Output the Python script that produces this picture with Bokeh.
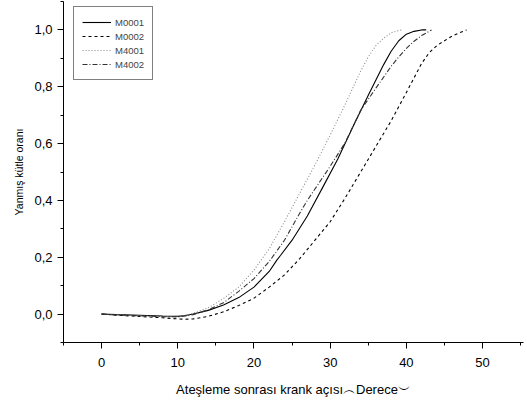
from bokeh.plotting import figure
from bokeh.models import FixedTicker, CustomJSTickFormatter, Legend, LegendItem, Range1d
from bokeh.embed import file_html
from bokeh.resources import INLINE

# ---- data ----
angle_m0001 = [0, 2, 4, 6, 8, 10, 11, 12, 14, 16, 18, 20, 22, 23, 23.5, 25, 27, 29, 31, 33, 35, 37, 38, 39, 40, 41, 42, 42.6]
m0001 = [0, -0.002, -0.003, -0.005, -0.007, -0.008, -0.005, 0.0, 0.013, 0.032, 0.058, 0.095, 0.15, 0.19, 0.207, 0.26,
         0.345, 0.445, 0.546, 0.66, 0.77, 0.877, 0.925, 0.962, 0.985, 0.995, 1.0, 1.0]

angle_m0002 = [0, 2, 4, 6, 8, 10, 11, 12, 14, 16, 18, 20, 22, 24, 26, 28, 30, 32, 34, 36, 38, 40, 42, 43, 44, 45, 46, 47, 47.9]
m0002 = [0, -0.004, -0.007, -0.01, -0.013, -0.017, -0.018, -0.017, -0.008, 0.008, 0.03, 0.056, 0.095, 0.138, 0.195,
         0.26, 0.325, 0.41, 0.5, 0.59, 0.68, 0.78, 0.882, 0.92, 0.945, 0.962, 0.978, 0.99, 1.0]

angle_m4001 = [0, 2, 4, 6, 8, 10, 11, 12, 14, 16, 18, 20, 22, 24, 26, 28, 30, 32, 34, 35, 36, 37, 38, 39, 39.5]
m4001 = [0, -0.003, -0.005, -0.007, -0.009, -0.008, -0.004, 0.002, 0.022, 0.055, 0.095, 0.155, 0.23, 0.325, 0.425,
         0.525, 0.63, 0.74, 0.855, 0.905, 0.945, 0.97, 0.99, 0.998, 1.0]

angle_m4002 = [0, 2, 4, 6, 8, 10, 11, 12, 14, 16, 18, 20, 22, 24, 26, 27, 28, 30, 32, 34, 36, 38, 39, 40, 41, 42, 43.3]
m4002 = [0, -0.003, -0.005, -0.007, -0.009, -0.01, -0.007, -0.002, 0.015, 0.04, 0.08, 0.125, 0.185, 0.26, 0.355,
         0.40, 0.44, 0.52, 0.605, 0.717, 0.795, 0.872, 0.905, 0.935, 0.96, 0.98, 1.0]

series_names = ["M0001", "M0002", "M4001", "M4002"]
x_major = [0, 10, 20, 30, 40, 50]
x_minor = [-5, 5, 15, 25, 35, 45, 55]
y_major = [0.0, 0.2, 0.4, 0.6, 0.8, 1.0]
y_minor = [-0.1, 0.1, 0.3, 0.5, 0.7, 0.9, 1.1]
x_title = "Ateşleme sonrası krank açısı︵Derece︶"
y_title = "Yanmış kütle oranı"

FONT = "Liberation Sans"

p = figure(width=526, height=399, output_backend="svg", toolbar_location=None,
           x_range=Range1d(-5, 55.37), y_range=Range1d(-0.1, 1.1),
           min_border_left=63, min_border_right=3, min_border_top=1, min_border_bottom=56)
p.outline_line_color = None
p.background_fill_color = "white"
p.border_fill_color = "white"
p.xgrid.visible = False
p.ygrid.visible = False

styles = [
    dict(color="black", line_dash="solid", line_width=1.1),
    dict(color="black", line_dash="3 3", line_width=1.1),
    dict(color="#8a8a8a", line_dash="1 2", line_width=1.1),
    dict(color="#333333", line_dash="5 2 1 2", line_width=1.1),
]
data = [(angle_m0001, m0001), (angle_m0002, m0002), (angle_m4001, m4001), (angle_m4002, m4002)]

items = []
for name, (xs, ys), st in zip(series_names, data, styles):
    r = p.line(xs, ys, line_color=st["color"], line_dash=st["line_dash"], line_width=st["line_width"])
    items.append(LegendItem(label=name, renderers=[r]))

legend = Legend(items=items, location=(10, 262))
legend.border_line_color = "black"
legend.border_line_width = 1
legend.background_fill_color = "white"
legend.background_fill_alpha = 1
legend.label_text_font = FONT
legend.label_text_font_size = "9.5px"
legend.glyph_width = 29
legend.glyph_height = 14
legend.label_height = 14
legend.label_standoff = 4
legend.spacing = 0
legend.padding = 8
legend.margin = 0
p.add_layout(legend)

for ax in (p.xaxis[0], p.yaxis[0]):
    ax.axis_line_color = "black"
    ax.axis_line_width = 1
    ax.major_tick_line_color = "black"
    ax.minor_tick_line_color = "black"
    ax.major_tick_out = 6
    ax.major_tick_in = 0
    ax.minor_tick_out = 3
    ax.minor_tick_in = 0
    ax.major_label_text_font = FONT
    ax.major_label_text_font_size = "13px"
    ax.major_label_text_color = "black"
    ax.axis_label_text_font = FONT
    ax.axis_label_text_font_style = "normal"
    ax.axis_label_text_color = "black"

p.xaxis.ticker = FixedTicker(ticks=x_major, minor_ticks=x_minor)
p.yaxis.ticker = FixedTicker(ticks=y_major, minor_ticks=y_minor)
p.yaxis.formatter = CustomJSTickFormatter(code="return tick.toFixed(1).replace('.', ',');")
p.xaxis.major_label_standoff = 9
p.yaxis.major_label_standoff = 5
p.xaxis.axis_label = x_title
p.yaxis.axis_label = y_title
p.xaxis.axis_label_text_font_size = "13px"
p.yaxis.axis_label_text_font_size = "10.5px"
p.xaxis.axis_label_standoff = 12
p.yaxis.axis_label_standoff = 6

open("out.html", "w").write(file_html(p, INLINE))
